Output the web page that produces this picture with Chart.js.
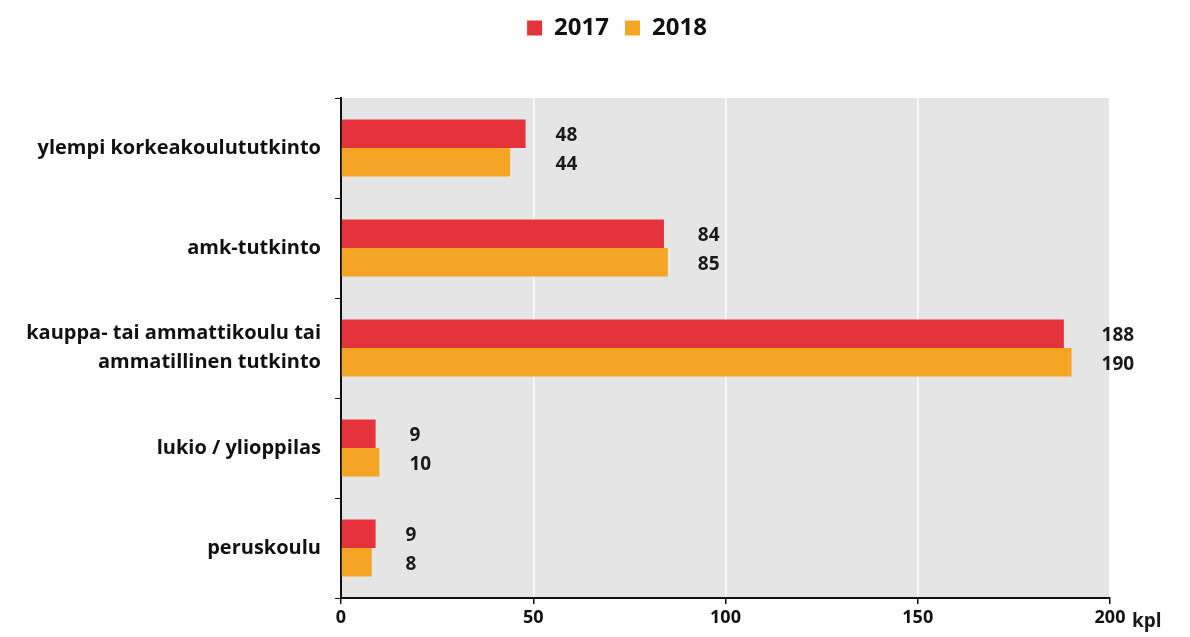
<!DOCTYPE html>
<html>
<head>
<meta charset="utf-8">
<script src="https://cdn.jsdelivr.net/npm/chart.js@4/dist/chart.umd.min.js"></script>
<style>
    html, body { margin: 0; padding: 0; background: #fff; }
    #wrap { width: 1190px; height: 637px; }
</style>
</head>
<body>
<div id="wrap"><canvas id="eduChart" width="1190" height="637"></canvas></div>
<script>
// Koulutustaso, kpl
const categories = [
    'ylempi korkeakoulututkinto',
    'amk-tutkinto',
    ['kauppa- tai ammattikoulu tai', 'ammatillinen tutkinto'],
    'lukio / ylioppilas',
    'peruskoulu'
];
const values2017 = [48, 84, 188, 9, 9];
const values2018 = [44, 85, 190, 10, 8];
const xTicks = [0, 50, 100, 150, 200];
const unitLabel = 'kpl';

const FONT = "'Open Sans', 'DejaVu Sans', sans-serif";

// gray plot background
const plotBackground = {
    id: 'plotBackground',
    beforeDraw(chart) {
        const { ctx, chartArea: a } = chart;
        ctx.save();
        ctx.fillStyle = '#e5e5e5';
        ctx.fillRect(a.left, a.top, a.right - a.left, a.bottom - a.top);
        ctx.restore();
    }
};

// extra space under the legend, and nudge it right over the plot
const legendMargin = {
    id: 'legendMargin',
    beforeInit(chart) {
        const fit = chart.legend.fit;
        chart.legend.fit = function() {
            fit.bind(chart.legend)();
            this.height += 48;
        };
    },
    afterLayout(chart) {
        chart.legend.left += 62;
        chart.legend.right += 62;
    }
};

// value labels, lined up per category to the right of the longer bar
const valueLabels = {
    id: 'valueLabels',
    afterDatasetsDraw(chart) {
        const { ctx } = chart;
        const xScale = chart.scales.x;
        ctx.save();
        ctx.font = 'bold 19px ' + FONT;
        ctx.fillStyle = '#1a1a1a';
        ctx.textAlign = 'left';
        ctx.textBaseline = 'middle';
        categories.forEach((c, i) => {
            const vals = chart.data.datasets.map(ds => ds.data[i]);
            const x = xScale.getPixelForValue(Math.max(...vals)) + 30;
            chart.data.datasets.forEach((ds, d) => {
                const bar = chart.getDatasetMeta(d).data[i];
                ctx.fillText(String(ds.data[i]), x, bar.y + 2);
            });
        });
        // unit after the last x tick
        ctx.fillText(unitLabel, chart.chartArea.right + 22, xScale.bottom - 15);
        ctx.restore();
    }
};

const ctx = document.getElementById('eduChart').getContext('2d');
new Chart(ctx, {
    type: 'bar',
    data: {
        labels: categories,
        datasets: [{
            label: '2017',
            data: values2017,
            backgroundColor: '#e4333a',
            categoryPercentage: 0.57,
            barPercentage: 1.0
        }, {
            label: '2018',
            data: values2018,
            backgroundColor: '#f4a524',
            categoryPercentage: 0.57,
            barPercentage: 1.0
        }]
    },
    options: {
        indexAxis: 'y',
        responsive: false,
        animation: false,
        layout: {
            padding: { top: 0, right: 80, left: 0, bottom: 0 }
        },
        plugins: {
            legend: {
                position: 'top',
                labels: {
                    color: '#111',
                    boxWidth: 15,
                    boxHeight: 15,
                    padding: 16,
                    font: { family: FONT, size: 24, weight: 'bold' }
                }
            },
            tooltip: { enabled: false }
        },
        scales: {
            x: {
                min: 0,
                max: 200,
                afterBuildTicks(scale) {
                    scale.ticks = xTicks.map(v => ({ value: v }));
                },
                afterFit(scale) {
                    scale.height = 39;
                },
                border: { color: '#111', width: 2 },
                grid: {
                    color: '#ffffff',
                    lineWidth: 1.5,
                    tickColor: '#111',
                    tickLength: 6
                },
                ticks: {
                    color: '#111',
                    padding: 3,
                    font: { family: FONT, size: 18, weight: 'bold' }
                }
            },
            y: {
                afterFit(scale) {
                    scale.width = 341;
                },
                border: { color: '#111', width: 2 },
                grid: {
                    offset: true,
                    drawOnChartArea: false,
                    tickColor: '#111',
                    tickLength: 6
                },
                ticks: {
                    color: '#111',
                    padding: 14,
                    font: { family: FONT, size: 20, weight: 'bold', lineHeight: 1.45 }
                }
            }
        }
    },
    plugins: [plotBackground, legendMargin, valueLabels]
});
</script>
</body>
</html>
